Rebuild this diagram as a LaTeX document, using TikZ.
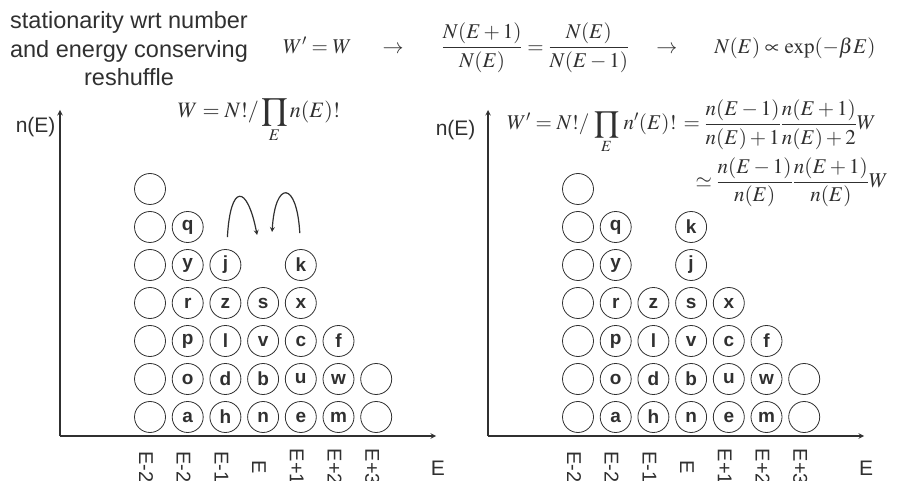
\documentclass[tikz,border=0pt]{standalone}
\usepackage{amsmath}
\usepackage{mathptmx}
\usepackage[no-math]{fontspec}
\setsansfont{Liberation Sans}
\usetikzlibrary{calc}
\definecolor{ink}{HTML}{303030}
\tikzset{
  ball/.style={circle, draw=ink, line width=0.8pt, minimum size=31pt, inner sep=0pt,
    text=ink, font=\sffamily\bfseries\fontsize{19}{19}\selectfont},
  axis/.style={draw=ink, line width=1.4pt},
  elabel/.style={rotate=-90, text=ink, font=\sffamily\fontsize{20}{20}\selectfont},
  hop/.style={->, draw=ink, line width=1.2pt},
  eq/.style={text=ink, font=\fontsize{21}{25}\selectfont, inner sep=0pt},
}
\begin{document}
\begin{tikzpicture}[x=1pt, y=1pt, >=stealth]
  \useasboundingbox (0,0) rectangle (898,480);
  % headline
  \node[text=ink, align=center, font=\sffamily\fontsize{23.5}{28.5}\selectfont] (title) at (129,431)
    {stationarity wrt number\\and energy conserving\\reshuffle};
  \node[eq, anchor=west] (cond) at (283,432)
    {$W' = W$\hspace{31pt}$\rightarrow$\hspace{38pt}$\dfrac{N(E+1)}{N(E)}=\dfrac{N(E)}{N(E-1)}$\hspace{27pt}$\rightarrow$\hspace{37pt}$N(E) \propto \exp(-\beta E)$};

  % before the move
  \coordinate (Lo) at (60,44);
  \draw[axis, ->] (Lo) -- (60,370) coordinate (Ly);
  \draw[axis, ->] (Lo) -- (436,44) coordinate (Lx);
  \node[anchor=east, text=ink, font=\sffamily\fontsize{21}{21}\selectfont] (Lny) at ($(Ly)+(-1,-17)$) {n(E)};
  \node[text=ink, font=\sffamily\fontsize{21}{21}\selectfont] (LE) at ($(Lx)+(2,-32)$) {E};
  \node[eq, anchor=base, font=\fontsize{22}{26}\selectfont] (LW) at (259,362) {$\displaystyle W = N!/\prod_E n(E)!$};
  \foreach \r in {0,...,6}
    \node[ball] (L0\r) at (150, 63+38*\r) {};
  \foreach \r in {0,1}
    \node[ball] (L6\r) at (376.2, 63+38*\r) {};
  \foreach \c/\letters in {1/{a,o,p,r,y,q}, 2/{h,d,l,z,j}, 3/{n,b,v,s}, 4/{e,u,c,x,k}, 5/{m,w,f}}
    \foreach \t [count=\r from 0] in \letters
      \node[ball] (L\t) at (150+37.7*\c, 63+38*\r) {\t};
  \foreach \lab [count=\c from 0] in {E-2,E-2,E-1,E,E+1,E+2,E+3}
    \node[elabel] (Lt\c) at (146+37.7*\c, 13) {\lab};
  \coordinate (Lgap) at (263.1,215);
  \draw[hop] ($(Lj.north)+(2,12)$) .. controls +(3,54) and +(-10,51) .. ($(Lgap)+(-6,30)$);
  \draw[hop] ($(Lk.north)+(-1,16)$) .. controls +(-3,53) and +(3,52) .. ($(Lgap)+(9,33)$);

  % after the move
  \begin{scope}[xshift=428pt]
    \coordinate (Ro) at (60,44);
    \draw[axis, ->] (Ro) -- (60,370) coordinate (Ry);
    \draw[axis, ->] (Ro) -- (436,44) coordinate (Rx);
    \node[anchor=east, text=ink, font=\sffamily\fontsize{21}{21}\selectfont] (Rny) at ($(Ry)+(-9,-20)$) {n(E)};
    \node[text=ink, font=\sffamily\fontsize{21}{21}\selectfont] (RE) at ($(Rx)+(2,-32)$) {E};
    \node[eq, anchor=base west] (RW) at (79,350)
      {$\begin{aligned}[t] W' = N!/\,\prod_E\, n'(E)!\, &= \frac{n(E-1)}{n(E)+1}\frac{n(E+1)}{n(E)+2}W\\
        &\hspace{12pt}\simeq \frac{n(E-1)}{n(E)}\frac{n(E+1)}{n(E)}W \end{aligned}$};
    \foreach \r in {0,...,6}
      \node[ball] (R0\r) at (150, 63+38*\r) {};
    \foreach \r in {0,1}
      \node[ball] (R6\r) at (376.2, 63+38*\r) {};
    \foreach \c/\letters in {1/{a,o,p,r,y,q}, 2/{h,d,l,z}, 3/{n,b,v,s,j,k}, 4/{e,u,c,x}, 5/{m,w,f}}
      \foreach \t [count=\r from 0] in \letters
        \node[ball] (R\t) at (150+37.7*\c, 63+38*\r) {\t};
    \foreach \lab [count=\c from 0] in {E-2,E-2,E-1,E,E+1,E+2,E+3}
      \node[elabel] (Rt\c) at (146+37.7*\c, 13) {\lab};
  \end{scope}
\end{tikzpicture}
\end{document}
